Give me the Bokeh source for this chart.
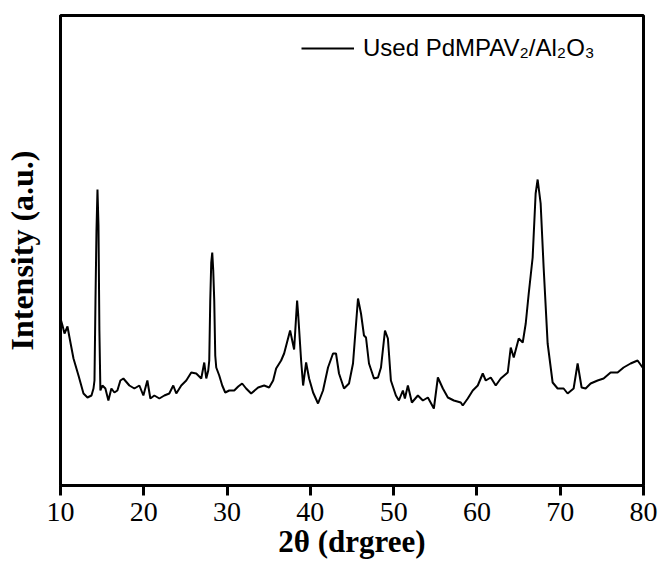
from bokeh.plotting import figure
from bokeh.models import Range1d, FixedTicker, Legend, LegendItem
from bokeh.embed import file_html
from bokeh.resources import INLINE

two_theta = [10.00, 10.24, 10.48, 10.84, 11.08, 11.56, 12.16, 12.76, 13.24, 13.72,
             13.96, 14.08, 14.20, 14.32, 14.44, 14.56, 14.67, 14.79, 15.03, 15.39,
             15.75, 16.11, 16.47, 16.83, 17.19, 17.55, 18.27, 18.87, 19.47, 19.95,
             20.43, 20.79, 21.27, 21.87, 22.47, 23.06, 23.54, 23.90, 24.50, 25.10,
             25.70, 26.30, 26.90, 27.26, 27.50, 27.74, 27.86, 27.98, 28.10, 28.22,
             28.34, 28.46, 28.58, 28.70, 29.06, 29.42, 29.78, 30.26, 30.86, 31.34,
             31.81, 32.29, 32.89, 33.73, 34.45, 35.05, 35.53, 35.89, 36.49, 36.85,
             37.57, 38.05, 38.41, 38.53, 38.89, 39.13, 39.49, 39.85, 40.33, 40.92,
             41.52, 42.12, 42.72, 43.08, 43.44, 44.04, 44.64, 45.12, 45.72, 46.08,
             46.44, 46.68, 47.04, 47.64, 48.12, 48.48, 48.96, 49.31, 49.67, 50.27,
             50.63, 51.11, 51.35, 51.71, 52.19, 52.91, 53.51, 54.11, 54.83, 55.31,
             55.91, 56.51, 57.23, 58.06, 58.30, 58.90, 59.50, 60.10, 60.70, 61.06,
             61.66, 62.26, 62.86, 63.70, 64.06, 64.42, 65.02, 65.50, 65.86, 66.22,
             66.69, 67.05, 67.29, 67.65, 68.01, 68.49, 69.09, 69.69, 70.41, 70.89,
             71.61, 72.09, 72.57, 73.05, 73.65, 74.49, 75.21, 76.05, 76.89, 77.61,
             78.45, 79.29, 79.89, 80.00]

intensity = [167, 160, 152, 159, 148, 127, 110, 92, 88, 90,
             97, 105, 185, 255, 296, 260, 155, 95, 100, 97,
             85, 97, 93, 95, 105, 107, 100, 97, 100, 90,
             105, 87, 90, 87, 90, 92, 100, 92, 100, 105,
             113, 112, 107, 123, 107, 115, 125, 185, 223, 233,
             215, 185, 130, 118, 110, 100, 93, 95, 95, 99,
             102, 97, 92, 98, 100, 98, 105, 117, 125, 132,
             155, 136, 185, 172, 125, 100, 123, 107, 93, 82,
             95, 118, 132, 132, 112, 97, 102, 122, 187, 172,
             150, 148, 122, 107, 108, 118, 155, 147, 105, 90,
             85, 95, 87, 100, 83, 90, 85, 88, 77, 108,
             97, 88, 85, 83, 80, 87, 95, 100, 112, 105,
             108, 100, 107, 113, 138, 128, 147, 143, 162, 192,
             228, 292, 306, 282, 218, 142, 103, 97, 97, 92,
             97, 122, 98, 97, 102, 105, 107, 113, 113, 118,
             122, 125, 118, 118]

x_ticks = [10, 20, 30, 40, 50, 60, 70, 80]
series_label = "Used PdMPAV\u2082/Al\u2082O\u2083"

p = figure(width=662, height=570, output_backend="svg", toolbar_location=None,
           x_range=Range1d(10, 80), y_range=Range1d(0, 470),
           min_border_left=59, min_border_right=19, min_border_top=15, min_border_bottom=85)

r = p.line(two_theta, intensity, line_color="black", line_width=2)

p.xgrid.visible = False
p.ygrid.visible = False
p.outline_line_color = "black"
p.outline_line_width = 3
p.background_fill_color = "white"
p.border_fill_color = "white"

xa = p.xaxis[0]
xa.ticker = FixedTicker(ticks=x_ticks)
xa.axis_label = "2\u03b8 (drgree)"
xa.axis_label_text_font = "Liberation Serif"
xa.axis_label_text_font_style = "bold"
xa.axis_label_text_font_size = "31px"
xa.axis_label_text_color = "black"
xa.axis_label_standoff = 0
xa.major_label_text_font = "Liberation Serif"
xa.major_label_text_font_size = "28px"
xa.major_label_text_color = "black"
xa.major_label_standoff = 7
xa.major_tick_in = 0
xa.major_tick_out = 10
xa.major_tick_line_width = 3
xa.major_tick_line_color = "black"
xa.minor_tick_line_color = None
xa.axis_line_width = 3
xa.axis_line_color = "black"

ya = p.yaxis[0]
ya.ticker = FixedTicker(ticks=[])
ya.axis_label = "Intensity (a.u.)"
ya.axis_label_text_font = "Liberation Serif"
ya.axis_label_text_font_style = "bold"
ya.axis_label_text_font_size = "32px"
ya.axis_label_text_color = "black"
ya.axis_label_standoff = 21
ya.major_tick_line_color = None
ya.minor_tick_line_color = None
ya.major_label_text_font_size = "0px"
ya.axis_line_width = 3
ya.axis_line_color = "black"

legend = Legend(items=[LegendItem(label=series_label, renderers=[r])],
                location=(241, 423), padding=0, margin=0, spacing=0,
                glyph_width=53, label_standoff=9,
                label_text_font="Liberation Sans", label_text_font_size="24px",
                label_text_color="black",
                border_line_alpha=0, background_fill_alpha=0)
p.add_layout(legend)

open("out.html", "w").write(file_html(p, INLINE))
